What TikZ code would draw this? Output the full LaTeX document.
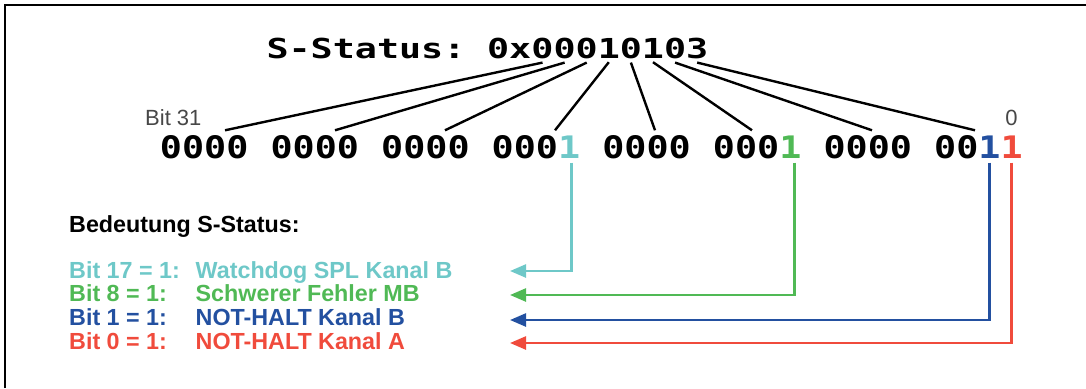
\documentclass[tikz,border=0pt]{standalone}
\usepackage{fontspec}
\setmainfont{Liberation Sans}
\newfontfamily\titlemono[FakeStretch=1.335]{DejaVu Sans Mono Bold}
\newfontfamily\bitmono[FakeStretch=1.185]{DejaVu Sans Mono Bold}
\usetikzlibrary{arrows.meta,calc}

\definecolor{bitcyan}{HTML}{6EC8C8}
\definecolor{bitgreen}{HTML}{50B955}
\definecolor{bitblue}{HTML}{2350A0}
\definecolor{bitred}{HTML}{F04B3C}

\tikzset{
  hexchar/.style={font=\titlemono\fontsize{27.5}{30}\selectfont, inner xsep=0pt, inner ysep=4pt, anchor=base},
  bitgroup/.style={font=\bitmono\fontsize{31}{34}\selectfont, inner xsep=0pt, inner ysep=4.5pt, anchor=base},
  bitlabel/.style={font=\fontsize{22}{24}\selectfont, text=black!72, inner sep=0pt},
  legend/.style={font=\bfseries\fontsize{23.3}{25}\selectfont, inner sep=0pt, anchor=base west},
  link/.style={line width=2.4pt, black},
  flag/.style={line width=2.5pt, -{Triangle[length=16pt,width=13pt]}},
}

\begin{document}
\begin{tikzpicture}[x=1pt,y=-1pt]
\useasboundingbox (0,0) rectangle (1086,388);

% frame (top and left edges)
\draw[line width=1.8pt] (5,388) -- (5,5) -- (1086,5);

% status word in hex
\node[hexchar, anchor=base west] (name) at (266.3,58) {S-Status:};
\node[hexchar, anchor=base east] (prefix) at (531.45,58) {0x};
\node[hexchar] (h0) at (542.5,58) {0};
\node[hexchar] (h1) at (564.6,58) {0};
\node[hexchar] (h2) at (586.7,58) {0};
\node[hexchar] (h3) at (608.8,58) {1};
\node[hexchar] (h4) at (630.9,58) {0};
\node[hexchar] (h5) at (653.0,58) {1};
\node[hexchar] (h6) at (675.1,58) {0};
\node[hexchar] (h7) at (697.2,58) {3};

% bit positions
\node[bitlabel, anchor=base west] (msb) at (145,125) {Bit 31};
\node[bitlabel, anchor=base] (lsb) at (1011.6,125) {0};

% status word in binary
\node[bitgroup] (g0) at (204.2,158) {0000};
\node[bitgroup] (g1) at (314.8,158) {0000};
\node[bitgroup] (g2) at (425.4,158) {0000};
\node[bitgroup] (g3) at (524.9,158) {000};
\node[bitgroup, text=bitcyan] (b17) at (569.2,158) {1};
\node[bitgroup] (g4) at (646.6,158) {0000};
\node[bitgroup] (g5) at (746.1,158) {000};
\node[bitgroup, text=bitgreen] (b8) at (790.4,158) {1};
\node[bitgroup] (g6) at (867.8,158) {0000};
\node[bitgroup] (g7) at (956.3,158) {00};
\node[bitgroup, text=bitblue] (b1) at (989.4,158) {1};
\node[bitgroup, text=bitred] (b0) at (1011.6,158) {1};

% each hex digit spreads into its nibble
\draw[link] (h0.south) -- ($(g0.north)+(20.8,0)$);
\draw[link] (h1.south) -- ($(g1.north)+(20.2,0)$);
\draw[link] (h2.south) -- ($(g2.north)+(19.6,0)$);
\draw[link] (h3.south) -- ($(g3.north)+(30.1,0)$);
\draw[link] (h4.south) -- ($(g4.north)+(8.4,0)$);
\draw[link] (h5.south) -- ($(g5.north)+(5.9,0)$);
\draw[link] (h6.south) -- ($(g6.north)+(4.2,0)$);
\draw[link] (h7.south) -- ($(g7.north)+(18.7,0)$);

% meaning of the set bits
\node[legend] (head) at (69,232) {Bedeutung S-Status:};

\node[legend, text=bitcyan]  (k17) at (69,278)   {Bit 17 = 1:};
\node[legend, text=bitcyan]  (m17) at (195.5,278) {Watchdog SPL Kanal B};
\node[legend, text=bitgreen] (k8)  at (69,301.7) {Bit 8 = 1:};
\node[legend, text=bitgreen] (m8)  at (195.5,301.7) {Schwerer Fehler MB};
\node[legend, text=bitblue]  (k1)  at (69,325.4) {Bit 1 = 1:};
\node[legend, text=bitblue]  (m1)  at (195.5,325.4) {NOT-HALT Kanal B};
\node[legend, text=bitred]   (k0)  at (69,349)   {Bit 0 = 1:};
\node[legend, text=bitred]   (m0)  at (195.5,349) {NOT-HALT Kanal A};

\coordinate (t17) at (510,271);
\coordinate (t8)  at (510,295);
\coordinate (t1)  at (510,320);
\coordinate (t0)  at (510,343);

\draw[flag, bitcyan]  ([xshift=2.5pt]b17.south) |- (t17);
\draw[flag, bitgreen] ([xshift=4pt]b8.south)    |- (t8);
\draw[flag, bitblue]  (b1.south)                |- (t1);
\draw[flag, bitred]   (b0.south)                |- (t0);
\end{tikzpicture}
\end{document}
